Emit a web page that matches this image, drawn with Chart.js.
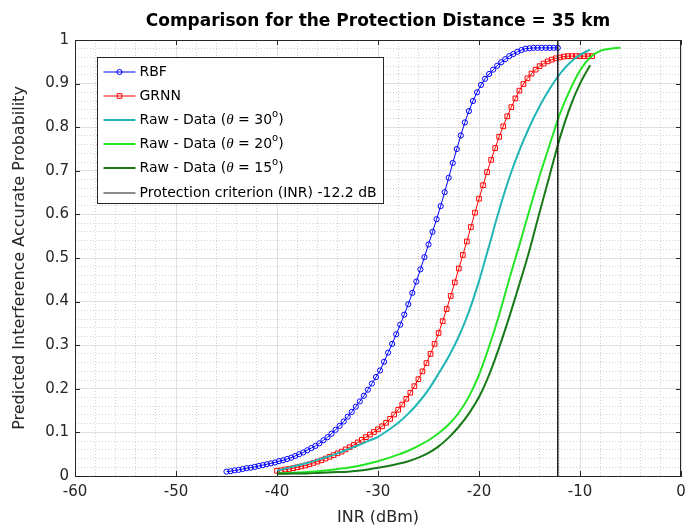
<!DOCTYPE html>
<html>
<head>
<meta charset="utf-8">
<title>Protection Distance 35 km</title>
<script src="https://cdn.jsdelivr.net/npm/chart.js@4.4.1/dist/chart.umd.min.js"></script>
<style>
html,body{margin:0;padding:0;background:#fff;}
canvas{display:block;}
</style>
</head>
<body>
<canvas id="inrChart" width="686" height="530"></canvas>
<script>
// ===== DATA =====
const xTicks = [-60,-50,-40,-30,-20,-10,0];
const xTickLabels = ["-60","-50","-40","-30","-20","-10","0"];
const yTicks = [0,0.1,0.2,0.3,0.4,0.5,0.6,0.7,0.8,0.9,1];
const yTickLabels = ["0","0.1","0.2","0.3","0.4","0.5","0.6","0.7","0.8","0.9","1"];

// RBF network output
const rbfInr = [
    -45,-44.6,-44.2,-43.8,-43.4,-43,-42.6,-42.2,-41.8,-41.4,
    -41,-40.6,-40.2,-39.8,-39.4,-39,-38.6,-38.2,-37.8,-37.4,
    -37,-36.6,-36.2,-35.8,-35.4,-35,-34.6,-34.2,-33.8,-33.4,
    -33,-32.6,-32.2,-31.8,-31.4,-31,-30.6,-30.2,-29.8,-29.4,
    -29,-28.6,-28.2,-27.8,-27.4,-27,-26.6,-26.2,-25.8,-25.4,
    -25,-24.6,-24.2,-23.8,-23.4,-23,-22.6,-22.2,-21.8,-21.4,
    -21,-20.6,-20.2,-19.8,-19.4,-19,-18.6,-18.2,-17.8,-17.4,
    -17,-16.6,-16.2,-15.8,-15.4,-15,-14.6,-14.2,-13.8,-13.4,
    -13,-12.6,-12.2
];
const rbfProb = [
    0.010,0.011,0.013,0.014,0.016,0.018,0.019,0.021,0.023,0.025,
    0.027,0.029,0.031,0.034,0.036,0.039,0.042,0.046,0.050,0.054,
    0.059,0.064,0.069,0.075,0.082,0.089,0.097,0.106,0.115,0.125,
    0.136,0.147,0.159,0.171,0.184,0.198,0.212,0.227,0.242,0.262,
    0.283,0.303,0.325,0.347,0.370,0.394,0.420,0.446,0.474,0.502,
    0.531,0.560,0.589,0.619,0.651,0.684,0.718,0.750,0.781,0.811,
    0.837,0.860,0.880,0.897,0.911,0.922,0.932,0.941,0.949,0.956,
    0.963,0.968,0.973,0.977,0.980,0.981,0.982,0.982,0.982,0.982,
    0.982,0.982,0.982
];

// GRNN output
const grnnInr = [
    -40,-39.6,-39.2,-38.8,-38.4,-38,-37.6,-37.2,-36.8,-36.4,
    -36,-35.6,-35.2,-34.8,-34.4,-34,-33.6,-33.2,-32.8,-32.4,
    -32,-31.6,-31.2,-30.8,-30.4,-30,-29.6,-29.2,-28.8,-28.4,
    -28,-27.6,-27.2,-26.8,-26.4,-26,-25.6,-25.2,-24.8,-24.4,
    -24,-23.6,-23.2,-22.8,-22.4,-22,-21.6,-21.2,-20.8,-20.4,
    -20,-19.6,-19.2,-18.8,-18.4,-18,-17.6,-17.2,-16.8,-16.4,
    -16,-15.6,-15.2,-14.8,-14.4,-14,-13.6,-13.2,-12.8,-12.4,
    -12,-11.6,-11.2,-10.8,-10.4,-10,-9.6,-9.2,-8.8
];
const grnnProb = [
    0.012,0.013,0.015,0.016,0.018,0.020,0.022,0.024,0.027,0.030,
    0.033,0.036,0.040,0.044,0.048,0.052,0.056,0.061,0.066,0.071,
    0.077,0.083,0.089,0.095,0.101,0.107,0.114,0.122,0.131,0.141,
    0.152,0.164,0.177,0.191,0.206,0.222,0.240,0.259,0.280,0.303,
    0.328,0.355,0.383,0.413,0.444,0.476,0.507,0.538,0.571,0.604,
    0.636,0.667,0.697,0.725,0.752,0.778,0.802,0.825,0.846,0.866,
    0.884,0.899,0.912,0.923,0.932,0.940,0.946,0.951,0.955,0.958,
    0.960,0.962,0.963,0.963,0.963,0.963,0.963,0.963,0.963
];

// raw measurements
const rawInr = [-40,-39,-38,-37,-36,-35,-34,-33,-32,-31,-30,-29,-28,-27,-26,-25,
                -24,-23,-22,-21,-20,-19,-18,-17,-16,-15,-14,-13,-12,-11,-10,-9];
const raw20Inr = [-40,-39,-38,-37,-36,-35,-34,-33,-32,-31,-30,-29,-28,-27,-26,-25,
                  -24,-23,-22,-21,-20,-19,-18,-17,-16,-15,-14,-13,-12,-11,-10,-9,-8,-7,-6];
const raw30Prob = [0.012,0.018,0.024,0.030,0.037,0.044,0.052,0.061,0.070,0.080,0.090,0.105,0.122,0.143,0.168,0.198,
                   0.235,0.274,0.320,0.377,0.447,0.528,0.610,0.684,0.747,0.801,0.848,0.888,0.922,0.948,0.966,0.978];
const raw20Prob = [0.006,0.007,0.008,0.009,0.011,0.013,0.016,0.019,0.023,0.028,0.034,0.041,0.049,0.058,0.069,0.082,
                   0.098,0.118,0.145,0.182,0.232,0.297,0.370,0.452,0.530,0.610,0.688,0.760,0.830,0.885,0.930,0.960,0.975,0.980,0.982];
const raw15Prob = [0.005,0.005,0.006,0.006,0.007,0.008,0.009,0.010,0.012,0.015,0.019,0.023,0.028,0.034,0.042,0.053,
                   0.068,0.088,0.113,0.143,0.181,0.232,0.295,0.365,0.440,0.518,0.605,0.690,0.775,0.845,0.900,0.942];

const protectionInr = -12.2;

const FONT = "DejaVu Sans";
const TEXT = "#262626";

function pairs(xs, ys){
    return xs.map((x,i)=>({x:x,y:ys[i]}));
}

// legend text pieces (theta italic, degree as raised "o")
function rawLabel(deg){
    return [{t:"Raw - Data ("},{t:"\u03b8",italic:true},{t:" = "+deg},{t:"o",sup:true},{t:")"}];
}

const datasets = [
    {label:"RBF", legendParts:[{t:"RBF"}], data:pairs(rbfInr,rbfProb),
     borderColor:"#0000ff", borderWidth:1, pointStyle:"circle", pointRadius:2.6,
     pointBorderWidth:1, pointBorderColor:"#0000ff", pointBackgroundColor:"rgba(0,0,0,0)", order:6},
    {label:"GRNN", legendParts:[{t:"GRNN"}], data:pairs(grnnInr,grnnProb),
     borderColor:"#ff0000", borderWidth:1, pointStyle:"rect", pointRadius:3.3,
     pointBorderWidth:1, pointBorderColor:"#ff0000", pointBackgroundColor:"rgba(0,0,0,0)", order:5},
    {label:"Raw 30", legendParts:rawLabel(30), data:pairs(rawInr,raw30Prob),
     borderColor:"#22b5b5", borderWidth:2, pointRadius:0, cubicInterpolationMode:"monotone", order:4},
    {label:"Raw 20", legendParts:rawLabel(20), data:pairs(raw20Inr,raw20Prob),
     borderColor:"#24e524", borderWidth:2, pointRadius:0, cubicInterpolationMode:"monotone", order:3},
    {label:"Raw 15", legendParts:rawLabel(15), data:pairs(rawInr,raw15Prob),
     borderColor:"#177a17", borderWidth:2, pointRadius:0, cubicInterpolationMode:"monotone", order:2},
    {label:"Protection", legendParts:[{t:"Protection criterion (INR) -12.2 dB"}],
     data:[{x:protectionInr,y:0},{x:protectionInr,y:1}],
     borderColor:"#1a1a1a", borderWidth:1.5, pointRadius:0, order:1}
];
datasets.forEach(d=>{ d.showLine = true; });

// box, inward ticks and legend, MATLAB style
const axesBox = {
    id:"axesBox",
    afterDraw(chart){
        const {ctx, chartArea:a, scales} = chart;
        ctx.save();
        ctx.strokeStyle = TEXT;
        ctx.lineWidth = 1;
        ctx.beginPath();
        ctx.moveTo(a.left, a.top+0.5); ctx.lineTo(a.right, a.top+0.5);
        ctx.moveTo(a.right-0.5, a.top); ctx.lineTo(a.right-0.5, a.bottom);
        xTicks.forEach(v=>{
            const px = Math.round(scales.x.getPixelForValue(v))+0.5;
            ctx.moveTo(px, a.bottom); ctx.lineTo(px, a.bottom-5);
            ctx.moveTo(px, a.top); ctx.lineTo(px, a.top+5);
        });
        yTicks.forEach(v=>{
            const py = Math.round(scales.y.getPixelForValue(v))+0.5;
            ctx.moveTo(a.left, py); ctx.lineTo(a.left+5, py);
            ctx.moveTo(a.right, py); ctx.lineTo(a.right-5, py);
        });
        ctx.stroke();

        // legend
        const bx = Math.round(a.left)+22.5, by = Math.round(a.top)+17.5, bw = 286, bh = 146;
        ctx.fillStyle = "#fff";
        ctx.fillRect(bx, by, bw, bh);
        ctx.strokeStyle = TEXT;
        ctx.strokeRect(bx, by, bw, bh);
        ctx.textBaseline = "middle";
        chart.data.datasets.forEach((d,i)=>{
            const y = Math.round(by + 14 + i*24.2);
            ctx.strokeStyle = d.borderColor;
            ctx.lineWidth = i===5 ? 1 : d.borderWidth;
            ctx.beginPath();
            ctx.moveTo(bx+6, y); ctx.lineTo(bx+38, y);
            ctx.stroke();
            if(d.pointRadius>0){
                ctx.lineWidth = 1;
                ctx.beginPath();
                if(d.pointStyle==="circle"){
                    ctx.arc(bx+22, y, d.pointRadius, 0, Math.PI*2);
                }else{
                    const s = d.pointRadius*Math.SQRT1_2;
                    ctx.rect(bx+22-s, y-s, 2*s, 2*s);
                }
                ctx.stroke();
            }
            let x = bx+42;
            ctx.fillStyle = "#000";
            d.legendParts.forEach(p=>{
                ctx.font = p.italic ? "italic 15px 'Liberation Serif'" : (p.sup ? "10px '"+FONT+"'" : "14px '"+FONT+"'");
                ctx.fillText(p.t, x, p.sup ? y-6 : y);
                x += ctx.measureText(p.t).width;
            });
        });
        ctx.restore();
    }
};

const isMajor = (v, step) => Math.abs(v/step - Math.round(v/step)) < 1e-6;

const chart = new Chart(document.getElementById("inrChart"), {
    type:"scatter",
    data:{datasets:datasets},
    options:{
        responsive:false,
        animation:false,
        events:[],
        layout:{padding:{left:0,right:0,top:8,bottom:0}},
        plugins:{
            legend:{display:false},
            tooltip:{enabled:false},
            title:{
                display:true,
                fullSize:false,
                text:"Comparison for the Protection Distance = 35 km",
                color:"#000",
                font:{family:FONT,size:17,weight:"bold"},
                padding:{top:3,bottom:8.6}
            }
        },
        scales:{
            x:{
                type:"linear", position:"bottom", min:-60, max:0,
                afterBuildTicks:ax=>{ ax.ticks = xTicks.map(v=>({value:v})); },
                afterFit:ax=>{ ax.height = 54; ax.paddingRight = 4; },
                ticks:{callback:(v,i)=>xTickLabels[i], color:TEXT, font:{family:FONT,size:15},
                       padding:7, maxRotation:0, autoSkip:false},
                grid:{color:"#e0e0e0", drawTicks:false},
                border:{color:TEXT, width:1},
                title:{display:true, text:"INR (dBm)", color:TEXT, font:{family:FONT,size:16},
                       padding:{top:0,bottom:3}}
            },
            y:{
                type:"linear", position:"left", min:0, max:1,
                afterBuildTicks:ax=>{ ax.ticks = yTicks.map(v=>({value:v})); },
                afterFit:ax=>{ ax.width = 75; },
                ticks:{callback:(v,i)=>yTickLabels[i], color:TEXT, font:{family:FONT,size:15},
                       padding:6, autoSkip:false},
                grid:{color:"#e0e0e0", drawTicks:false},
                border:{color:TEXT, width:1},
                title:{display:true, text:"Predicted Interference Accurate Probability", color:TEXT,
                       font:{family:FONT,size:16}, padding:{top:10,bottom:0}}
            },
            xMinor:{
                type:"linear", position:"top", min:-60, max:0,
                afterFit:ax=>{ ax.height = 0; ax.paddingLeft = 0; ax.paddingRight = 0; },
                ticks:{display:false, stepSize:2},
                grid:{color:c=>isMajor(c.tick.value,10) ? "rgba(0,0,0,0)" : "#d2d2d2", drawTicks:false},
                border:{display:false, dash:[1,2]}
            },
            yMinor:{
                type:"linear", position:"right", min:0, max:1,
                afterFit:ax=>{ ax.width = 0; ax.paddingTop = 0; ax.paddingBottom = 0; },
                ticks:{display:false, stepSize:0.02},
                grid:{color:c=>isMajor(c.tick.value,0.1) ? "rgba(0,0,0,0)" : "#d2d2d2", drawTicks:false},
                border:{display:false, dash:[1,2]}
            }
        }
    },
    plugins:[axesBox]
});
</script>
</body>
</html>
